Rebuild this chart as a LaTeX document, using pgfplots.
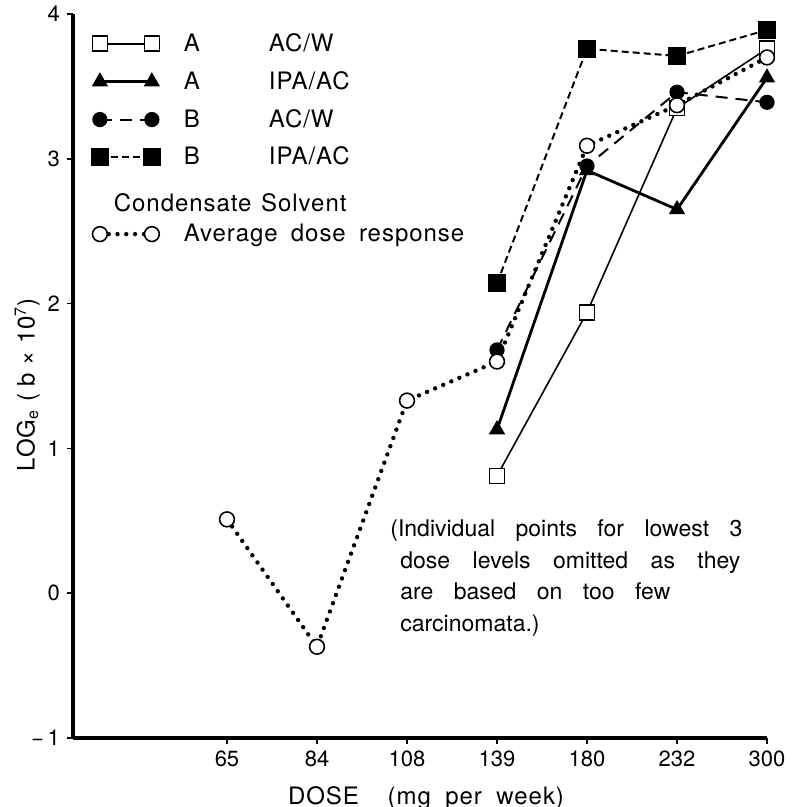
\documentclass[border=0pt]{standalone}
\usepackage{fontspec}
\setmainfont{TeX Gyre Heros}
\newfontfamily\widefont[LetterSpace=4]{TeX Gyre Heros}
\usepackage{pgfplots}
\pgfplotsset{compat=1.18}

% dose levels are drawn evenly spaced: 65=0, 84=1, 108=2, 139=3, 180=4, 232=5, 300=6
\pgfplotstableread{
x y
3 0.81
4 1.94
5 3.35
6 3.76
}\aacw
\pgfplotstableread{
x y
3 1.13
4 2.92
5 2.65
6 3.56
}\aipa
\pgfplotstableread{
x y
3 1.68
4 2.95
5 3.46
6 3.39
}\bacw
\pgfplotstableread{
x y
3 2.14
4 3.76
5 3.71
6 3.89
}\bipa
\pgfplotstableread{
x y
0 0.51
1 -0.37
2 1.33
3 1.60
4 3.09
5 3.37
6 3.70
}\avg

\begin{document}
\begin{tikzpicture}
\begin{axis}[
  name=ax,
  scale only axis,
  width=347pt, height=362pt,
  xmin=-1.711, xmax=6, ymin=-1, ymax=4,
  axis lines*=left,
  axis line style={line width=2pt},
  tick align=outside,
  major tick length=3pt,
  tick style={line width=0.8pt, black},
  xtick={0,...,6},
  xticklabels={65,84,108,139,180,232,300},
  ytick={-1,0,1,2,3,4},
  yticklabels={−\,1,0,1,2,3,4},
  ticklabel style={font=\fontsize{11}{13}\selectfont},
  xlabel={DOSE\hspace{1.2em}(mg\hspace{0.6em}per\hspace{0.6em}week)},
  ylabel={LOG\textsubscript{e} ( b × 10\textsuperscript{7})},
  label style={font=\widefont\fontsize{12}{14}\selectfont},
  xlabel style={at={(axis description cs:0.5,0)}, anchor=center, yshift=-30pt, xshift=3pt},
  ylabel style={at={(axis description cs:-0.066,0.488)}, anchor=center},
  clip=false,
  legend image code/.code={\draw[#1] plot coordinates {(0pt,0pt) (26pt,0pt)};},
  legend style={at={(axis description cs:0.018,0.985)}, anchor=north west, draw=none, fill=none,
    font=\widefont\fontsize{12}{13.5}\selectfont, row sep=4.5pt, cells={anchor=west},
    /tikz/every odd column/.append style={column sep=10pt}},
]
\addplot[black, line width=0.8pt, mark=square*, mark size=3.75pt,
  mark options={solid, fill=white, line width=0.8pt}] table {\aacw};
\addlegendentry{\makebox[42.5pt][l]{A}AC/W}
\addplot[black, line width=1.4pt, mark=triangle*, mark size=4.2pt,
  mark options={solid, line width=0.5pt}] table {\aipa};
\addlegendentry{\makebox[42.5pt][l]{A}IPA/AC}
\addplot[black, line width=1pt, dash pattern=on 6pt off 4pt, mark=*, mark size=3.3pt,
  mark options={solid}] table {\bacw};
\addlegendentry{\makebox[42.5pt][l]{B}AC/W}
\addplot[black, line width=1pt, dash pattern=on 3.5pt off 2pt, mark=square*, mark size=4pt,
  mark options={solid}] table {\bipa};
\addlegendentry{\makebox[42.5pt][l]{B}IPA/AC}
\addlegendimage{empty legend}
\addlegendentry{\hspace*{-35pt}\raisebox{-4pt}[\ht\strutbox][\dp\strutbox]{Condensate\hspace{0.4em}Solvent}}
\addplot[black, line width=2.2pt, dash pattern=on 0pt off 4.4pt, line cap=round,
  mark=*, mark size=3.7pt, mark options={solid, fill=white, line width=0.8pt}] table {\avg};
\addlegendentry{Average\hspace{0.55em}dose\hspace{0.55em}response}

\node[anchor=north west, inner sep=0pt, align=left,
  font=\fontsize{11.5}{15.85}\selectfont] at (axis cs:1.811,0.51)
  {\makebox[176pt][s]{(Individual points for lowest 3}\\
   \hspace*{5pt}\makebox[170pt][s]{dose levels omitted as they}\\
   \hspace*{5pt}\makebox[135pt][s]{are based on too few}\\
   \hspace*{5pt}carcinomata.)};
\end{axis}
\pgfresetboundingbox
\path (ax.south west) ++(-36.5pt,-34.5pt) rectangle ++(397.5pt,403.5pt);
\end{tikzpicture}
\end{document}
